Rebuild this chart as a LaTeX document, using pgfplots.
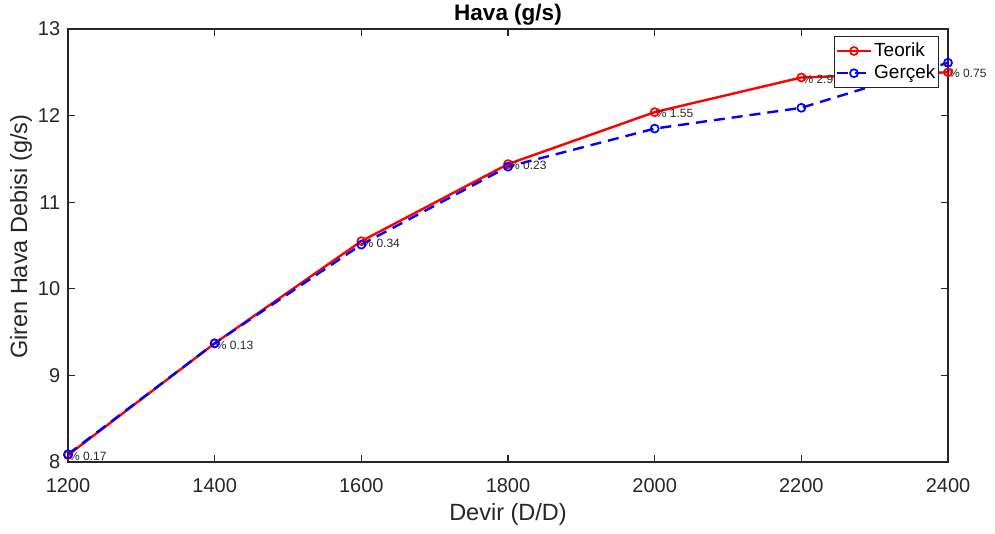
\documentclass[border=0pt]{standalone}
\usepackage{pgfplots}
\pgfplotsset{compat=1.18}
\usepackage{fontspec}
\setmainfont{Liberation Sans}
\definecolor{axgray}{RGB}{38,38,38}
\begin{document}
\fontsize{20}{24}\selectfont
\begin{tikzpicture}
\useasboundingbox (-68pt,-71pt) rectangle (927pt,462pt);
\begin{axis}[
  scale only axis,
  width=880pt, height=433pt,
  xmin=1200, xmax=2400, ymin=8, ymax=13,
  xtick={1200,1400,...,2400}, ytick={8,9,...,13},
  /pgf/number format/assume math mode=true,
  /pgf/number format/set thousands separator={},
  tick label style={font=\fontsize{20}{24}\selectfont, text=axgray},
  xticklabel style={yshift=-9.5pt},
  yticklabel style={xshift=-1pt},
  label style={font=\fontsize{23.5}{28}\selectfont, text=axgray},
  every axis title shift=0pt,
  title style={font=\fontsize{22.5}{27}\selectfont\bfseries, text=black,
    at={(axis description cs:0.5,1.034)}, anchor=center},
  title={Hava (g/s)},
  xlabel={Devir (D/D)},
  ylabel={Giren Hava Debisi (g/s)},
  xlabel style={at={(axis description cs:0.5,-0.121)}, anchor=center},
  ylabel style={at={(axis description cs:-0.0534,0.52)}, anchor=center},
  axis line style={axgray, line width=1.3pt},
  every tick/.style={axgray, line width=1.3pt},
  major tick length=7pt,
  tick align=inside,
  tick pos=both,
  clip=false,
  legend style={at={(axis cs:2400,13)}, anchor=north east, xshift=-9pt, yshift=-7pt,
    font=\fontsize{19}{23}\selectfont, draw=axgray, line width=1.2pt, fill=white,
    inner xsep=1pt, inner ysep=4pt, row sep=1.5pt},
  legend cell align=left,
  legend image code/.code={\draw[mark repeat=2,mark phase=2,#1] plot coordinates {(0pt,0pt)(17pt,0pt)(34pt,0pt)};},
]
\addplot[red, solid, line width=2.4pt, mark=o, mark size=4pt, mark options={solid, line width=1.7pt}]
  coordinates {(1200,8.08)(1400,9.37)(1600,10.55)(1800,11.44)(2000,12.04)(2200,12.44)(2400,12.50)};
\addlegendentry{Teorik}
\addplot[blue, dash pattern=on 11pt off 7pt, line width=2.4pt, mark=o, mark size=4pt, mark options={solid, line width=1.7pt}]
  coordinates {(1200,8.09)(1400,9.37)(1600,10.51)(1800,11.41)(2000,11.85)(2200,12.09)(2400,12.61)};
\addlegendentry{Gerçek}
\begin{scope}[every node/.style={anchor=west, inner sep=0pt, xshift=1pt, font=\fontsize{12}{14}\selectfont, text=axgray}]
\node at (axis cs:1200,8.06) {\% 0.17};
\node at (axis cs:1400,9.35) {\% 0.13};
\node at (axis cs:1600,10.53) {\% 0.34};
\node at (axis cs:1800,11.42) {\% 0.23};
\node at (axis cs:2000,12.02) {\% 1.55};
\node at (axis cs:2200,12.42) {\% 2.9};
\node at (axis cs:2400,12.49) {\% 0.75};
\end{scope}
\end{axis}
\end{tikzpicture}
\end{document}
